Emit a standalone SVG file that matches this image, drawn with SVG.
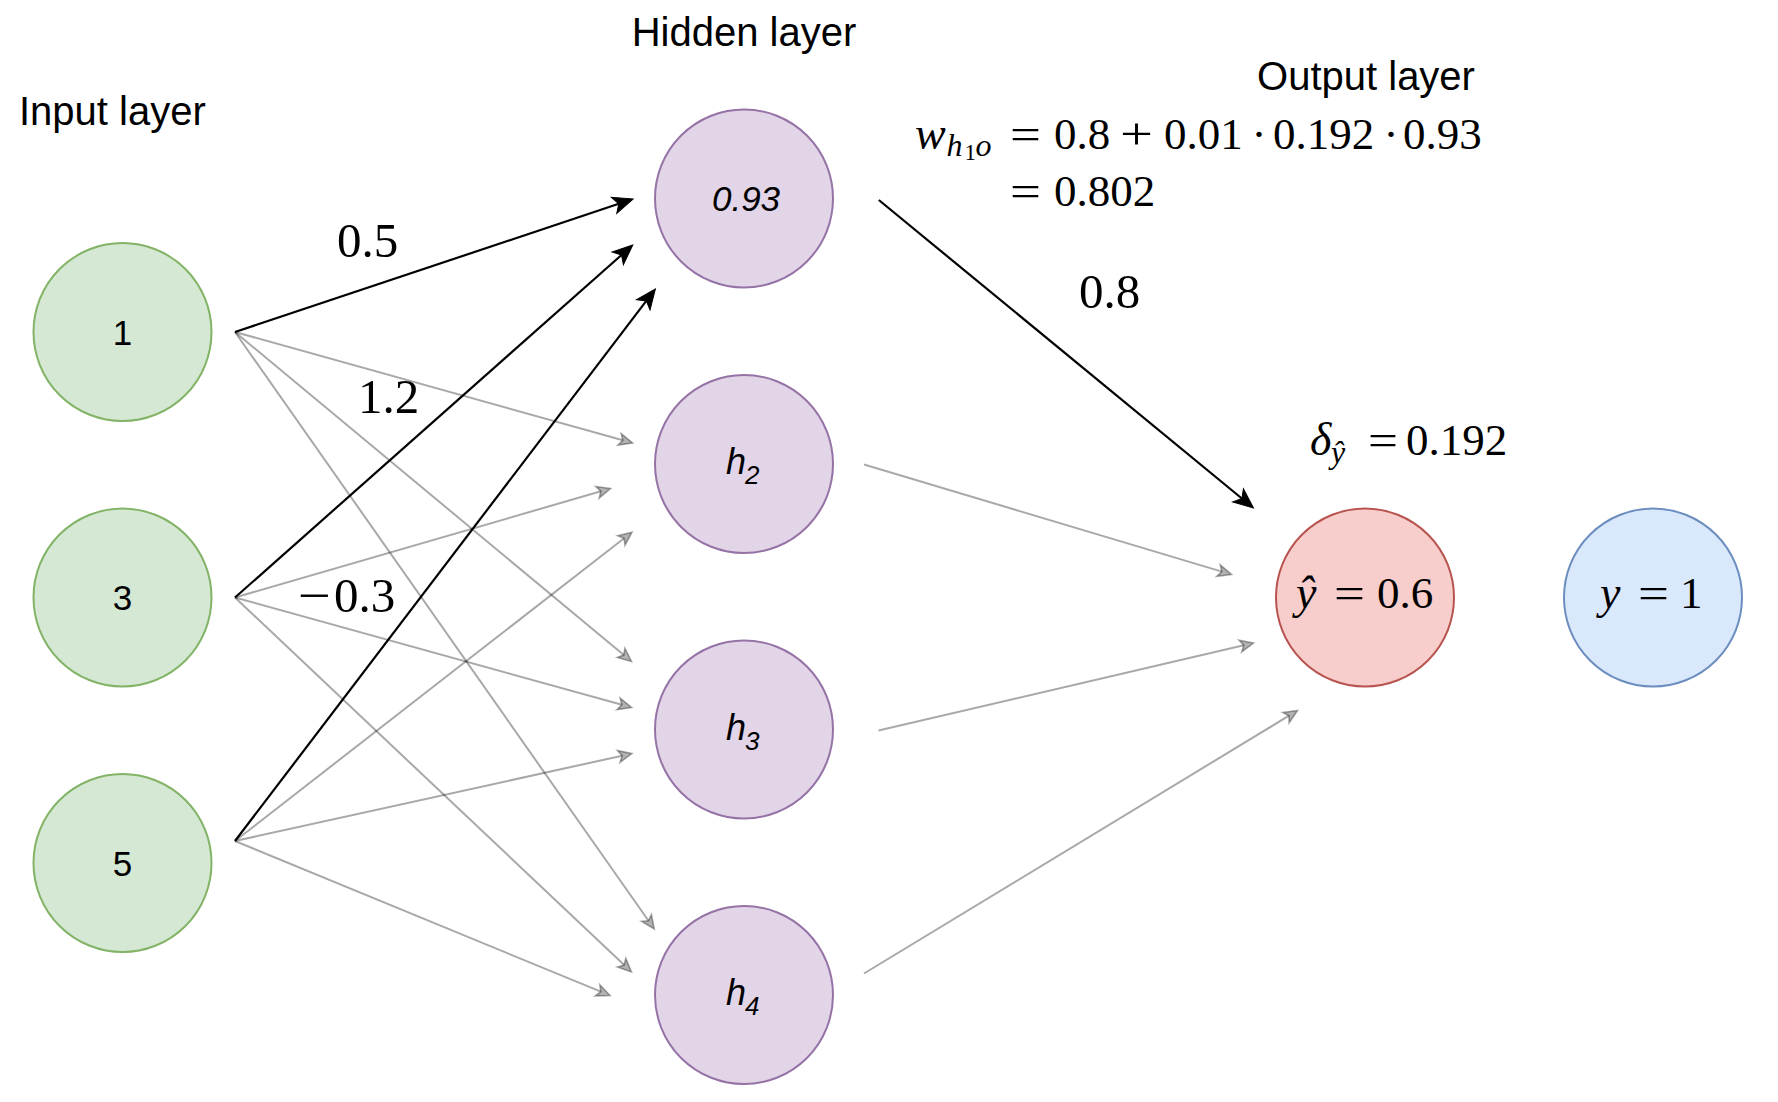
<svg xmlns="http://www.w3.org/2000/svg" width="1778" height="1102" viewBox="0 0 1778 1102">
  <style>
    .title { font-family: "Liberation Sans", Arial, sans-serif; font-size: 40px; fill: #000; }
    .val { font-family: "Liberation Sans", Arial, sans-serif; font-size: 35px; fill: #000; text-anchor: middle; }
    .ital { font-family: "Liberation Sans", Arial, sans-serif; font-style: italic; fill: #000; }
    .m { font-family: "Liberation Serif", "Times New Roman", serif; font-size: 45px; fill: #000; }
    .lbl { font-family: "Liberation Serif", "Times New Roman", serif; font-size: 49px; fill: #000; }
    .mi { font-family: "Liberation Serif", "Times New Roman", serif; font-size: 46px; font-style: italic; fill: #000; }
    .ms { font-family: "Liberation Serif", "Times New Roman", serif; font-size: 32px; font-style: italic; fill: #000; }
    .mss { font-family: "Liberation Serif", "Times New Roman", serif; font-size: 23px; fill: #000; }
    .in { fill: #d5e8d4; stroke: #82b366; stroke-width: 2; }
    .hid { fill: #e1d5e7; stroke: #9673a6; stroke-width: 2; }
    .pred { fill: #f8cecc; stroke: #b85450; stroke-width: 2; }
    .target { fill: #dae8fc; stroke: #6c8ebf; stroke-width: 2; }
    .strong { fill: none; stroke: #000; stroke-width: 2.2; marker-end: url(#arrowBlack); }
    .weak { fill: none; stroke: #000; stroke-opacity: 0.34; stroke-width: 2; marker-end: url(#arrowGray); }
  </style>
  <defs>
    <!-- classic notched arrowheads; the reference point is the notch so the line stops there -->
    <marker id="arrowBlack" markerUnits="userSpaceOnUse" orient="auto" refX="0" refY="0" markerWidth="40" markerHeight="40" viewBox="-10 -20 40 40" overflow="visible">
      <path d="M15,0 L-5,-8.5 L0,0 L-5,8.5 Z" fill="#000" stroke="#000" stroke-width="1"/>
    </marker>
    <marker id="arrowGray" markerUnits="userSpaceOnUse" orient="auto" refX="0" refY="0" markerWidth="30" markerHeight="30" viewBox="-10 -15 30 30" overflow="visible">
      <path d="M10,0 L-3.5,-6 L0,0 L-3.5,6 Z" fill="#000" fill-opacity="0.3" stroke="#000" stroke-opacity="0.34" stroke-width="1.6"/>
    </marker>
  </defs>

  <rect width="1778" height="1102" fill="#ffffff"/>

  <!-- layer titles -->
  <text class="title" x="19" y="125">Input layer</text>
  <text class="title" x="744" y="45.5" text-anchor="middle">Hidden layer</text>
  <text class="title" x="1366" y="90" text-anchor="middle">Output layer</text>

  <!-- connectors -->
  <g id="connectors">
    <path class="weak" d="M235,332 L622.9,440.3"/>
    <path class="weak" d="M235,332 L623.8,655.1"/>
    <path class="weak" d="M235,332 L648.5,920.8"/>
    <path class="weak" d="M235,597.5 L600.9,491.3"/>
    <path class="weak" d="M235,597.5 L621.9,704.8"/>
    <path class="weak" d="M235,597.5 L624.2,965.1"/>
    <path class="weak" d="M235,841 L624.1,538.3"/>
    <path class="weak" d="M235,841 L622.2,755.7"/>
    <path class="weak" d="M235,841 L600.8,991.7"/>
    <path class="weak" d="M864,464.5 L1221.9,571.6"/>
    <path class="weak" d="M878.5,730.5 L1243.8,645.3"/>
    <path class="weak" d="M864,973.5 L1289,715.7"/>
    <path class="strong" d="M235,332 L618.8,203.8"/>
    <path class="strong" d="M235,597.5 L621.5,255"/>
    <path class="strong" d="M235,841 L646.3,300.9"/>
    <path class="strong" d="M878.8,200 L1241.9,498.5"/>
  </g>

  <!-- edge weights -->
  <g id="weights">
    <text class="lbl" x="337" y="257">0.5</text>
    <text class="lbl" x="358" y="413">1.2</text>
    <text class="lbl" x="298" y="612" textLength="33" lengthAdjust="spacingAndGlyphs">−</text>
    <text class="lbl" x="334" y="612">0.3</text>
    <text class="lbl" x="1079" y="308">0.8</text>
  </g>

  <!-- weight update for h1 -> output -->
  <g id="weight-update">
    <text class="mi" x="915" y="149">w</text>
    <text class="ms" x="946.5" y="156">h</text>
    <text class="mss" x="964.5" y="160">1</text>
    <text class="ms" x="975.5" y="156">o</text>
    <text class="m" x="1010" y="149" textLength="31" lengthAdjust="spacingAndGlyphs">=</text>
    <text class="m" x="1054" y="149">0.8</text>
    <text class="m" x="1120" y="149" textLength="33" lengthAdjust="spacingAndGlyphs">+</text>
    <text class="m" x="1164" y="149">0.01</text>
    <text class="m" x="1259" y="149" text-anchor="middle">·</text>
    <text class="m" x="1273" y="149">0.192</text>
    <text class="m" x="1391" y="149" text-anchor="middle">·</text>
    <text class="m" x="1403" y="149">0.93</text>
    <text class="m" x="1010" y="206" textLength="31" lengthAdjust="spacingAndGlyphs">=</text>
    <text class="m" x="1054" y="206">0.802</text>
  </g>

  <!-- output delta -->
  <g id="delta">
    <text class="mi" x="1310" y="455">δ</text>
    <text class="ms" x="1331" y="463">ŷ</text>
    <text class="m" x="1368" y="455" textLength="30" lengthAdjust="spacingAndGlyphs">=</text>
    <text class="m" x="1406" y="455">0.192</text>
  </g>

  <!-- input nodes -->
  <g id="input-1">
    <circle class="in" cx="122.5" cy="332" r="89"/>
    <text class="val" x="122.5" y="344.5">1</text>
  </g>
  <g id="input-3">
    <circle class="in" cx="122.5" cy="597.5" r="89"/>
    <text class="val" x="122.5" y="610">3</text>
  </g>
  <g id="input-5">
    <circle class="in" cx="122.5" cy="863" r="89"/>
    <text class="val" x="122.5" y="875.5">5</text>
  </g>

  <!-- hidden nodes -->
  <g id="hidden-1">
    <circle class="hid" cx="744" cy="198.5" r="89"/>
    <text class="ital" x="746" y="210.5" font-size="35" text-anchor="middle">0.93</text>
  </g>
  <g id="hidden-2">
    <circle class="hid" cx="744" cy="464" r="89"/>
    <text class="ital" x="726" y="474" font-size="36">h</text>
    <text class="ital" x="745" y="484" font-size="26">2</text>
  </g>
  <g id="hidden-3">
    <circle class="hid" cx="744" cy="729.5" r="89"/>
    <text class="ital" x="726" y="739.5" font-size="36">h</text>
    <text class="ital" x="745" y="749.5" font-size="26">3</text>
  </g>
  <g id="hidden-4">
    <circle class="hid" cx="744" cy="995" r="89"/>
    <text class="ital" x="726" y="1005" font-size="36">h</text>
    <text class="ital" x="745" y="1015" font-size="26">4</text>
  </g>

  <!-- prediction and target -->
  <g id="prediction">
    <circle class="pred" cx="1365" cy="597.5" r="89"/>
    <text class="mi" x="1296" y="608">ŷ</text>
    <text class="m" x="1334" y="608" textLength="31" lengthAdjust="spacingAndGlyphs">=</text>
    <text class="m" x="1377" y="608">0.6</text>
  </g>
  <g id="target">
    <circle class="target" cx="1653" cy="597.5" r="89"/>
    <text class="mi" x="1600" y="608">y</text>
    <text class="m" x="1638" y="608" textLength="31" lengthAdjust="spacingAndGlyphs">=</text>
    <text class="m" x="1680" y="608">1</text>
  </g>
</svg>
